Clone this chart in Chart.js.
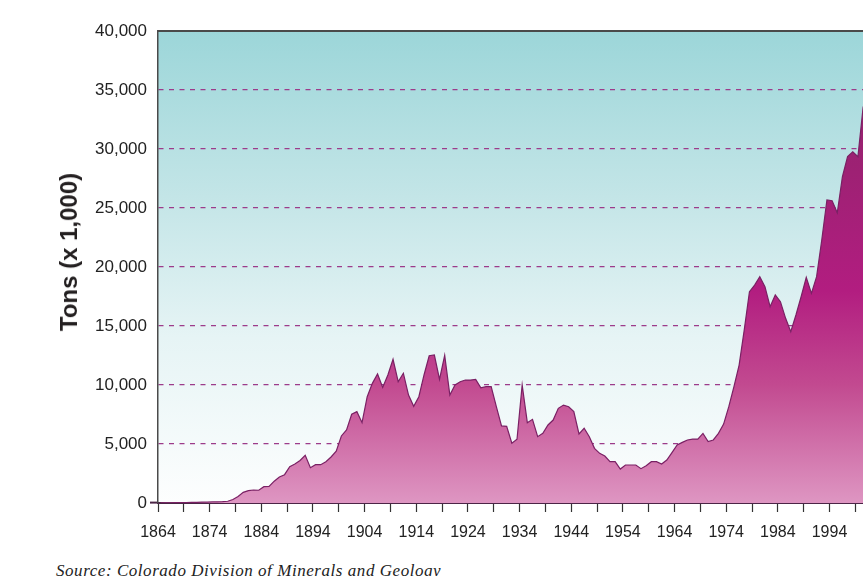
<!DOCTYPE html>
<html>
<head>
<meta charset="utf-8">
<title>Colorado coal production</title>
<script src="https://cdn.jsdelivr.net/npm/chart.js@4.4.0/dist/chart.umd.min.js"></script>
<style>
    body { margin: 0; background: #fff; overflow: hidden; width: 863px; height: 576px; position: relative; }
    #wrap { position: absolute; left: 0; top: 0; width: 918px; height: 545px; }
    #ytitle { position: absolute; left: 69px; top: 252px; transform: translate(-50%, -50%) rotate(-90deg); font: bold 24px "Liberation Sans", Arial, sans-serif; color: #231f20; white-space: nowrap; }
    #source { position: absolute; left: 56px; top: 561px; font: italic 17px "Liberation Serif", serif; letter-spacing: 0.55px; color: #222; white-space: nowrap; }
</style>
</head>
<body>
<div id="wrap"><canvas id="chart" width="918" height="545"></canvas></div>
<div id="ytitle">Tons (x 1,000)</div>
<div id="source">Source: Colorado Division of Minerals and Geology</div>
<script>
// Annual production, thousands of tons
const years = [
    1864, 1865, 1866, 1867, 1868, 1869, 1870, 1871, 1872, 1873,
    1874, 1875, 1876, 1877, 1878, 1879, 1880, 1881, 1882, 1883,
    1884, 1885, 1886, 1887, 1888, 1889, 1890, 1891, 1892, 1893,
    1894, 1895, 1896, 1897, 1898, 1899, 1900, 1901, 1902, 1903,
    1904, 1905, 1906, 1907, 1908, 1909, 1910, 1911, 1912, 1913,
    1914, 1915, 1916, 1917, 1918, 1919, 1920, 1921, 1922, 1923,
    1924, 1925, 1926, 1927, 1928, 1929, 1930, 1931, 1932, 1933,
    1934, 1935, 1936, 1937, 1938, 1939, 1940, 1941, 1942, 1943,
    1944, 1945, 1946, 1947, 1948, 1949, 1950, 1951, 1952, 1953,
    1954, 1955, 1956, 1957, 1958, 1959, 1960, 1961, 1962, 1963,
    1964, 1965, 1966, 1967, 1968, 1969, 1970, 1971, 1972, 1973,
    1974, 1975, 1976, 1977, 1978, 1979, 1980, 1981, 1982, 1983,
    1984, 1985, 1986, 1987, 1988, 1989, 1990, 1991, 1992, 1993,
    1994, 1995, 1996, 1997, 1998, 1999, 2000, 2001
];
const tons = [
    10, 15, 20, 25, 30, 40, 50, 60, 70, 80,
    90, 100, 120, 150, 300, 550, 900, 1050, 1100, 1080,
    1380, 1400, 1850, 2200, 2400, 3080, 3300, 3600, 4040, 2990,
    3250, 3250, 3500, 3900, 4400, 5680, 6190, 7520, 7740, 6810,
    9010, 10140, 10930, 9800, 10850, 12180, 10280, 11000, 9150, 8190,
    9010, 10850, 12480, 12540, 10480, 12510, 9150, 10000, 10280, 10420,
    10420, 10480, 9770, 9860, 9860, 8160, 6530, 6500, 5060, 5400,
    10000, 6810, 7090, 5620, 5900, 6610, 7030, 8020, 8300, 8160,
    7740, 5850, 6330, 5620, 4630, 4210, 3980, 3500, 3500, 2880,
    3220, 3220, 3220, 2910, 3160, 3500, 3500, 3300, 3640, 4270,
    4920, 5140, 5340, 5420, 5420, 5900, 5200, 5340, 5900, 6690,
    8160, 9860, 11690, 14700, 17910, 18470, 19180, 18330, 16640, 17630,
    17060, 15650, 14520, 15930, 17480, 19130, 17770, 19180, 22290, 25680,
    25620, 24600, 27650, 29350, 29770, 29350, 33500, 35000
];
const xLabels = [1864, 1874, 1884, 1894, 1904, 1914, 1924, 1934, 1944, 1954, 1964, 1974, 1984, 1994, 2004];
const yTicks = [0, 5000, 10000, 15000, 20000, 25000, 30000, 35000, 40000];

const X_MIN = 1864, X_MAX = 2009;

// shaded plot background + top frame line
const frame = {
    id: 'frame',
    beforeDraw(chart) {
        const { ctx, chartArea: a } = chart;
        const g = ctx.createLinearGradient(0, a.top, 0, a.bottom);
        g.addColorStop(0, '#9cd6d9');
        g.addColorStop(0.35, '#c3e5e7');
        g.addColorStop(0.65, '#e6f4f5');
        g.addColorStop(1, '#fdfefe');
        ctx.save();
        ctx.fillStyle = g;
        ctx.fillRect(a.left, a.top, a.right - a.left, a.bottom - a.top);
        ctx.restore();
    },
    afterDraw(chart) {
        const { ctx, chartArea: a } = chart;
        ctx.save();
        ctx.strokeStyle = '#4a4a4a';
        ctx.lineWidth = 2;
        ctx.beginPath();
        ctx.moveTo(a.left, a.top);
        ctx.lineTo(a.right, a.top);
        ctx.stroke();
        ctx.restore();
    }
};

function areaFill(context) {
    const a = context.chart.chartArea;
    if (!a) return '#c0448e';
    const g = context.chart.ctx.createLinearGradient(0, a.top, 0, a.bottom);
    g.addColorStop(0, '#8c2469');
    g.addColorStop(0.3, '#9e2174');
    g.addColorStop(0.55, '#b21d80');
    g.addColorStop(0.75, '#c24a90');
    g.addColorStop(1, '#de96c2');
    return g;
}

const ctx = document.getElementById('chart').getContext('2d');

new Chart(ctx, {
    type: 'line',
    data: {
        datasets: [{
            // points sit at mid-year
            data: years.map((y, i) => ({ x: y + 0.5, y: tons[i] })),
            fill: 'origin',
            backgroundColor: areaFill,
            borderColor: '#7a2064',
            borderWidth: 1.2,
            pointRadius: 0,
            tension: 0
        }]
    },
    options: {
        responsive: false,
        animation: false,
        events: [],
        layout: { padding: { top: 31, left: 0, right: 0, bottom: 0 } },
        plugins: {
            legend: { display: false },
            tooltip: { enabled: false }
        },
        scales: {
            x: {
                type: 'linear',
                min: X_MIN,
                max: X_MAX,
                afterBuildTicks: axis => {
                    const t = [];
                    for (let v = X_MIN; v <= X_MAX; v += 5) t.push({ value: v });
                    axis.ticks = t;
                },
                afterFit: axis => { axis.height = 42; },
                ticks: {
                    autoSkip: false,
                    maxRotation: 0,
                    padding: 11,
                    color: '#222',
                    font: { family: 'Liberation Sans', size: 16 },
                    callback: v => xLabels.includes(v) ? String(v) : ''
                },
                grid: {
                    drawOnChartArea: false,
                    drawTicks: true,
                    tickLength: 9,
                    tickColor: '#333',
                    tickWidth: 1.2
                },
                border: { color: '#4b2446', width: 2 }
            },
            y: {
                min: 0,
                max: 40000,
                afterBuildTicks: axis => { axis.ticks = yTicks.map(v => ({ value: v })); },
                afterFit: axis => { axis.width = 158; },
                ticks: {
                    padding: 3,
                    color: '#222',
                    font: { family: 'Liberation Sans', size: 17 },
                    callback: v => v.toLocaleString('en-US')
                },
                grid: {
                    color: c => (c.tick && (c.tick.value === 0 || c.tick.value === 40000)) ? 'rgba(0,0,0,0)' : '#9c3b8a',
                    lineWidth: 1.2,
                    tickLength: 8,
                    tickColor: c => (c.tick && c.tick.value === 0) ? '#4b2446' : 'rgba(0,0,0,0)',
                    tickWidth: 2
                },
                border: { color: '#4a4a4a', width: 1.5, dash: [5, 5.5] }
            }
        }
    },
    plugins: [frame]
});
</script>
</body>
</html>
